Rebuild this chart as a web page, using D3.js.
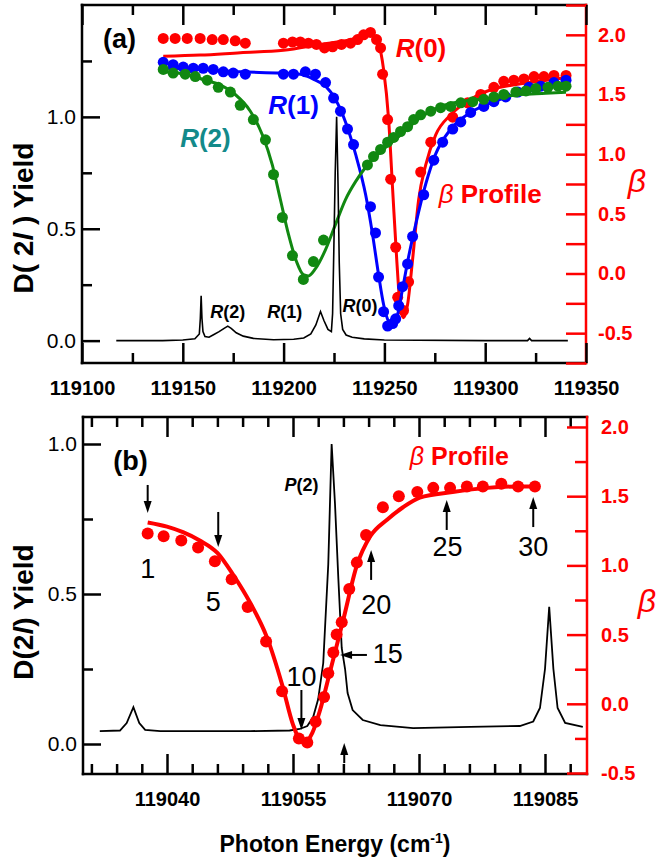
<!DOCTYPE html>
<html><head><meta charset="utf-8">
<script src="https://cdn.jsdelivr.net/npm/d3@7"></script>
<style>body{margin:0;background:#fff}svg{display:block}</style>
</head><body><svg id="c" width="657" height="862"></svg>
<script>
const FONT = '"Liberation Sans", Arial, sans-serif';
// ---------------- Panel (a) data ----------------
const specA_E = [119117,119140,119150,119156,119158.2,119158.7,119159.1,119159.5,119160,119161,119163,119165,119168,119170.5,119172.3,119174,119176.5,119180,119185,119195,119205,119210,119213.5,119216,119218.3,119220,119222,119223.7,119224.3,119224.9,119225.6,119226.3,119227.0,119227.6,119228.3,119229.3,119231,119234,119240,119250,119300,119321,119322,119323,119341];
const specA_Y = [0,0,0.003,0.008,0.03,0.1,0.2,0.1,0.04,0.018,0.015,0.025,0.04,0.055,0.065,0.055,0.035,0.02,0.01,0.004,0.006,0.012,0.03,0.07,0.13,0.09,0.05,0.04,0.12,0.4,0.75,1.0,0.7,0.35,0.12,0.05,0.025,0.015,0.008,0.003,0,0,0.01,0,0];

const r0E = [119140.3,119146.2,119152.2,119158.6,119164.6,119170.1,119176.0,119181.0,119199.9,119204.4,119208.3,119212.3,119216.3,119220.3,119224.3,119228.7,119233.2,119236.7,119239.7,119243.1,119246.1,119248.1,119249.1,119251.6,119253.1,119255.6,119256.6,119259.5,119262.0,119268.0,119273.0,119283.9,119291.3,119297.8,119304.3,119309.2,119314.2,119319.2,119324.2,119329.1,119334.1,119340.1];
const r0B = [1.97,1.97,1.97,1.97,1.96,1.96,1.95,1.93,1.93,1.94,1.94,1.93,1.92,1.89,1.90,1.92,1.93,1.96,2.00,2.02,1.96,1.89,1.67,1.29,0.79,0.22,-0.20,-0.31,-0.07,0.85,1.10,1.31,1.43,1.50,1.56,1.61,1.62,1.63,1.65,1.65,1.66,1.66];
const r0fitE = [119140.3,119158.6,119178.5,119199.9,119218.3,119233.2,119243.1,119247.1,119249.6,119252.1,119254.1,119256.1,119258.0,119259.5,119261.5,119264.0,119267.0,119270.5,119275.4,119282.9,119292.8,119302.8,119317.7,119330.1,119340.1];
const r0fitB = [1.82,1.83,1.85,1.87,1.92,1.96,2.00,1.92,1.71,1.29,0.70,0.12,-0.30,-0.37,-0.26,0.12,0.62,0.91,1.16,1.33,1.46,1.54,1.59,1.62,1.64];

const r1E = [119140.3,119145.2,119150.2,119155.2,119160.1,119165.1,119170.1,119175.0,119181.0,119199.9,119204.9,119210.8,119215.8,119220.8,119224.8,119228.2,119231.7,119234.7,119243.1,119245.6,119247.1,119249.6,119251.6,119254.1,119255.6,119257.1,119259.0,119261.5,119264.0,119269.5,119274.5,119278.9,119283.9,119287.9,119292.8,119299.3,119304.3,119310.2,119316.2,119321.7,119327.6,119334.1,119340.1];
const r1B = [1.77,1.75,1.73,1.72,1.72,1.71,1.69,1.68,1.67,1.67,1.67,1.69,1.67,1.60,1.47,1.36,1.21,1.08,0.56,0.34,-0.03,-0.32,-0.44,-0.42,-0.38,-0.27,-0.11,0.08,0.31,0.66,0.95,1.10,1.21,1.27,1.35,1.40,1.44,1.48,1.52,1.56,1.57,1.60,1.62];
const r1fitE = [119140.3,119158.6,119178.5,119198.4,119208.3,119215.8,119220.8,119225.7,119230.7,119235.7,119240.7,119244.1,119247.1,119249.6,119252.1,119254.1,119256.6,119259.0,119262.0,119265.5,119270.5,119275.4,119282.9,119292.8,119302.8,119312.7,119322.7,119332.6,119340.1];
const r1fitB = [1.72,1.71,1.69,1.68,1.67,1.62,1.57,1.46,1.27,1.00,0.66,0.33,-0.01,-0.26,-0.40,-0.42,-0.34,-0.13,0.14,0.41,0.75,1.00,1.21,1.35,1.43,1.49,1.54,1.57,1.59];

const r2E = [119140.3,119145.2,119151.2,119156.2,119162.1,119167.6,119173.6,119178.5,119185.0,119191.0,119195.0,119199.4,119204.4,119209.8,119214.8,119219.8,119241.6,119244.6,119248.1,119251.6,119254.6,119258.0,119261.5,119264.5,119268.0,119273.0,119277.9,119282.9,119287.9,119293.8,119299.3,119304.3,119309.2,119315.2,119320.2,119325.1,119331.1,119336.1,119340.1];
const r2B = [1.71,1.68,1.67,1.65,1.62,1.56,1.52,1.41,1.29,1.12,0.83,0.47,0.15,-0.05,0.10,0.28,0.91,0.98,1.04,1.10,1.14,1.19,1.23,1.29,1.33,1.36,1.39,1.40,1.43,1.44,1.46,1.48,1.50,1.52,1.53,1.55,1.56,1.57,1.57];
const r2fitE = [119140.3,119151.2,119161.1,119168.6,119176.0,119183.5,119189.5,119194.4,119198.4,119202.4,119206.4,119209.8,119212.3,119215.8,119220.8,119225.7,119230.7,119235.7,119240.7,119248.1,119258.0,119268.0,119277.9,119287.9,119297.8,119307.8,119317.7,119330.1,119340.1];
const r2fitB = [1.69,1.67,1.62,1.58,1.50,1.36,1.16,0.91,0.62,0.33,0.10,-0.01,-0.02,0.04,0.20,0.41,0.62,0.77,0.89,1.02,1.16,1.31,1.40,1.44,1.46,1.48,1.50,1.51,1.52];

const xTicksA = [119100,119150,119200,119250,119300,119350];
const xMinorA = [119125,119175,119225,119275,119325];
const yTicksA = [0,0.5,1.0];
const yMinorA = [0.25,0.75,1.25];
const bTicksA = [-0.75,-0.5,-0.25,0,0.25,0.5,0.75,1.0,1.25,1.5,1.75,2.0,2.25];
const bLabelsA = [-0.5,0,0.5,1.0,1.5,2.0];

// ---------------- Panel (b) data ----------------
const specB_E = [119032.0,119034.4,119035.2,119036.0,119036.7,119037.4,119039.2,119049.9,119054.6,119055.8,119056.7,119057.4,119058.0,119058.6,119059.2,119059.6,119060.0,119060.4,119060.8,119061.2,119061.5,119062.1,119063.3,119065.4,119069.3,119076.1,119082.0,119083.6,119084.4,119085.0,119085.5,119086.0,119086.5,119087.4,119089.5];
const specB_Y = [0.043,0.045,0.07,0.123,0.07,0.047,0.043,0.043,0.045,0.05,0.06,0.09,0.15,0.27,0.6,1.0,0.8,0.55,0.32,0.25,0.17,0.113,0.08,0.063,0.053,0.057,0.06,0.075,0.12,0.25,0.457,0.25,0.12,0.07,0.057];
const betaB_E = [119037.7,119039.6,119041.7,119043.7,119045.7,119047.7,119049.6,119051.8,119053.7,119055.7,119056.7,119057.7,119058.7,119059.2,119059.8,119060.2,119060.8,119061.7,119062.6,119063.7,119065.7,119067.6,119069.8,119071.7,119073.7,119075.7,119077.6,119079.8,119081.8,119083.8];
const betaB_B = [1.23,1.21,1.18,1.13,1.03,0.90,0.70,0.45,0.09,-0.25,-0.28,-0.13,0.05,0.22,0.37,0.50,0.59,0.83,1.02,1.22,1.42,1.50,1.53,1.56,1.56,1.57,1.57,1.59,1.57,1.57];
const betaFitB_E = [119037.7,119040.0,119041.9,119043.9,119046.0,119047.9,119049.9,119051.9,119053.7,119055.0,119055.8,119056.4,119057.3,119058.2,119059.4,119061.0,119062.6,119064.2,119066.2,119068.1,119070.1,119074.0,119078.1,119082.0,119084.4];
const betaFitB_B = [1.31,1.28,1.24,1.18,1.09,0.93,0.73,0.48,0.14,-0.15,-0.26,-0.28,-0.21,-0.05,0.23,0.61,1.00,1.21,1.33,1.42,1.49,1.53,1.56,1.57,1.57];

const xTicksB = [119040,119055,119070,119085];
const xMinorB = [119031,119034,119037,119043,119046,119049,119052,119058,119061,119064,119067,119073,119076,119079,119082,119088];
const yTicksB = [0,0.5,1.0];
const yMinorB = [0.25,0.75];
const bTicksB = [-0.5,0,0.5,1.0,1.5,2.0];
const bMinorB = [-0.25,0.25,0.75,1.25,1.75];

// arrows in (b): tail/tip in (energy, beta); labels
const arrTailE = [119037.7,119046.1,119056.0,119063.8,119064.3,119073.3,119083.6,119061.1];
const arrTailB = [1.581,1.386,0.10,0.353,0.895,1.256,1.277,-0.428];
const arrTipE  = [119037.7,119046.1,119056.0,119060.6,119064.3,119073.3,119083.6,119061.1];
const arrTipB  = [1.379,1.133,-0.19,0.353,1.111,1.473,1.494,-0.283];
const arrLabel = ["1","5","10","15","20","25","30"];
const arrLabE  = [119037.7,119045.5,119056.0,119064.5,119064.9,119073.4,119083.6];
const arrLabB  = [0.909,0.670,0.129,0.295,0.649,1.068,1.068];
const arrAnchor= ["middle","middle","middle","start","middle","middle","middle"];

// ---------------- scales ----------------
const xA = d3.scaleLinear().domain([119100,119350]).range([82,586]);
const yA = d3.scaleLinear().domain([-0.1,1.5]).range([363,5]);
const bA = d3.scaleLinear().domain([-0.75,2.25]).range([363,5]);
const xB = d3.scaleLinear().domain([119030,119090]).range([83,587]);
const yB = d3.scaleLinear().domain([-0.1,1.09]).range([774,417]);
const bB = d3.scaleLinear().domain([-0.507,2.072]).range([774,417]);

const svg = d3.select("#c");
const RED = "#ff0000", BLUE = "#0000ff", GREEN = "#118811", TEAL = "#138a8a";

function axis(gen, transform, values, size, color, fmt, fs, weight, pad) {
  const a = svg.append("g").attr("transform", transform)
    .call(gen.tickValues(values).tickSize(size).tickSizeOuter(0).tickPadding(pad || 3).tickFormat(fmt || (() => "")));
  a.select(".domain").remove();
  a.selectAll(".tick line").attr("stroke", color).attr("stroke-width", 2.5);
  a.selectAll(".tick text").attr("fill", color).style("font-size", (fs||10) + "px")
    .style("font-weight", weight || "normal").style("font-family", FONT);
  return a;
}
function frame(x, y) {
  const [x0, x1] = x.range(), [yb, yt] = y.range();
  const L = (a,b,c,d,col) => svg.append("line").attr("x1",a).attr("y1",b).attr("x2",c).attr("y2",d)
      .attr("stroke",col).attr("stroke-width",2.5).attr("stroke-linecap","square");
  L(x0,yt,x1,yt,"#000"); L(x0,yt,x0,yb,"#000"); L(x0,yb,x1,yb,"#000"); L(x1,yt,x1,yb,RED);
}
const f1 = v => v.toFixed(1);

// ---------------- Panel (a) ----------------
function series(x, y, E, V, color, r) {
  svg.append("g").selectAll("circle").data(d3.zip(E, V)).join("circle")
    .attr("cx", d => x(d[0])).attr("cy", d => y(d[1])).attr("r", r).attr("fill", color);
}
function fit(x, y, E, V, color, w) {
  svg.append("path").datum(d3.zip(E, V)).attr("fill","none").attr("stroke",color).attr("stroke-width",w)
    .attr("stroke-linejoin","round")
    .attr("d", d3.line().x(d => x(d[0])).y(d => y(d[1])).curve(d3.curveMonotoneX));
}
fit(xA, bA, r0fitE, r0fitB, RED, 3);
series(xA, bA, r0E, r0B, RED, 5.5);
fit(xA, bA, r1fitE, r1fitB, BLUE, 3);
series(xA, bA, r1E, r1B, BLUE, 5.5);
fit(xA, bA, r2fitE, r2fitB, GREEN, 3);
series(xA, bA, r2E, r2B, GREEN, 5.5);
svg.append("path").datum(d3.zip(specA_E, specA_Y)).attr("fill","none").attr("stroke","#000").attr("stroke-width",1.6)
  .attr("d", d3.line().x(d => xA(d[0])).y(d => yA(d[1])));

frame(xA, yA);
axis(d3.axisBottom(xA), "translate(0,363)", xTicksA, -20, "#000", d => d, 20, "bold", 18);
axis(d3.axisBottom(xA), "translate(0,363)", xMinorA, -10, "#000");
axis(d3.axisTop(xA), "translate(0,5)", xTicksA, -20, "#000");
axis(d3.axisTop(xA), "translate(0,5)", xMinorA, -10, "#000");
axis(d3.axisLeft(yA), "translate(82,0)", yTicksA, -18, "#000", f1, 21, "normal", 6);
axis(d3.axisLeft(yA), "translate(82,0)", yMinorA, -10, "#000");
axis(d3.axisRight(bA), "translate(586,0)", bTicksA, -20, RED);
axis(d3.axisRight(bA), "translate(586,0)", bLabelsA, 0, RED, f1, 20, "bold", 12);

function label(x, y, E, V, parts, size, color, anchor) {
  const t = svg.append("text").attr("x", x(E)).attr("y", y(V)).attr("fill", color)
    .attr("text-anchor", anchor || "start").style("font-family", FONT).style("font-size", size + "px");
  parts.forEach(p => t.append("tspan").text(p[0]).style("font-style", p[1] ? "italic" : "normal")
    .style("font-weight", p[2] === false ? "normal" : "bold"));
  return t;
}
label(xA, yA, 119110.4, 1.307, [["(a)"]], 27, "#000");
label(xA, yA, 119255.6, 1.267, [["R",1],["(0)"]], 26, RED);
label(xA, yA, 119192.4, 1.013, [["R",1],["(1)"]], 26, BLUE);
label(xA, yA, 119148.7, 0.867, [["R",1],["(2)"]], 26, TEAL);
label(xA, yA, 119276.9, 0.613, [["β",1,false],[" Profile"]], 26, RED);
label(xA, yA, 119163.6, 0.102, [["R",1],["(2)"]], 18, "#000");
label(xA, yA, 119191.9, 0.102, [["R",1],["(1)"]], 18, "#000");
label(xA, yA, 119229.2, 0.129, [["R",1],["(0)"]], 18, "#000");

// left title (a)
const ta = svg.append("text").attr("transform", "translate(33,218) rotate(-90)").attr("text-anchor","middle")
  .style("font-family", FONT).style("font-size","28px").style("font-weight","bold");
ta.append("tspan").text("D( 2");
ta.append("tspan").text("l").style("font-style","italic");
ta.append("tspan").text(" ) Yield");
svg.append("text").attr("x",637).attr("y",192).attr("text-anchor","middle").attr("fill",RED)
  .style("font-family", FONT).style("font-size","32px").style("font-style","italic").text("β");

// ---------------- Panel (b) ----------------
svg.append("path").datum(d3.zip(specB_E, specB_Y)).attr("fill","none").attr("stroke","#000").attr("stroke-width",1.8)
  .attr("d", d3.line().x(d => xB(d[0])).y(d => yB(d[1])));
fit(xB, bB, betaFitB_E, betaFitB_B, RED, 4);
series(xB, bB, betaB_E, betaB_B, RED, 6);

frame(xB, yB);
axis(d3.axisBottom(xB), "translate(0,774)", xTicksB, -20, "#000", d => d, 20, "bold", 18);
axis(d3.axisBottom(xB), "translate(0,774)", xMinorB, -10, "#000");
axis(d3.axisTop(xB), "translate(0,417)", xTicksB, -20, "#000");
axis(d3.axisTop(xB), "translate(0,417)", xMinorB, -10, "#000");
axis(d3.axisLeft(yB), "translate(83,0)", yTicksB, -18, "#000", f1, 21, "normal", 6);
axis(d3.axisLeft(yB), "translate(83,0)", yMinorB, -10, "#000");
axis(d3.axisRight(bB), "translate(587,0)", bTicksB, -20, RED, f1, 20, "bold", 14);
axis(d3.axisRight(bB), "translate(587,0)", bMinorB, -12, RED);

label(xB, yB, 119033.6, 0.913, [["(b)"]], 27, "#000");
label(xB, yB, 119054.0, 0.843, [["P",1],["(2)"]], 18, "#000");
label(xB, yB, 119068.9, 0.93, [["β",1,false],[" Profile"]], 25, RED);

// arrows
const ag = svg.append("g");
d3.range(arrTailE.length).forEach(i => {
  const x0 = xB(arrTailE[i]), y0 = bB(arrTailB[i]), x1 = xB(arrTipE[i]), y1 = bB(arrTipB[i]);
  const dx = x1 - x0, dy = y1 - y0, L = Math.hypot(dx, dy), ux = dx / L, uy = dy / L;
  const hl = 12, hw = 4;
  ag.append("line").attr("x1", x0).attr("y1", y0).attr("x2", x1 - ux*hl*0.8).attr("y2", y1 - uy*hl*0.8)
    .attr("stroke","#000").attr("stroke-width",2);
  const bx = x1 - ux*hl, by = y1 - uy*hl;
  ag.append("path").attr("d", `M${x1},${y1}L${bx - uy*hw},${by + ux*hw}L${bx + uy*hw},${by - ux*hw}Z`).attr("fill","#000");
});
svg.append("g").selectAll("text").data(arrLabel).join("text")
  .attr("x", (d,i) => xB(arrLabE[i])).attr("y", (d,i) => bB(arrLabB[i])).attr("text-anchor", (d,i) => arrAnchor[i])
  .style("font-family", FONT).style("font-size","27px").text(d => d);

const tb = svg.append("text").attr("transform", "translate(33,612) rotate(-90)").attr("text-anchor","middle")
  .style("font-family", FONT).style("font-size","28px").style("font-weight","bold");
tb.append("tspan").text("D(2");
tb.append("tspan").text("l").style("font-style","italic");
tb.append("tspan").text(") Yield");
svg.append("text").attr("x",647).attr("y",612).attr("text-anchor","middle").attr("fill",RED)
  .style("font-family", FONT).style("font-size","32px").style("font-style","italic").text("β");

const tx = svg.append("text").attr("x",335).attr("y",852).attr("text-anchor","middle")
  .style("font-family", FONT).style("font-size","23px").style("font-weight","bold");
tx.append("tspan").text("Photon Energy (cm");
tx.append("tspan").text("-1").attr("dy",-9).style("font-size","14px");
tx.append("tspan").text(")").attr("dy",9);
</script></body></html>
